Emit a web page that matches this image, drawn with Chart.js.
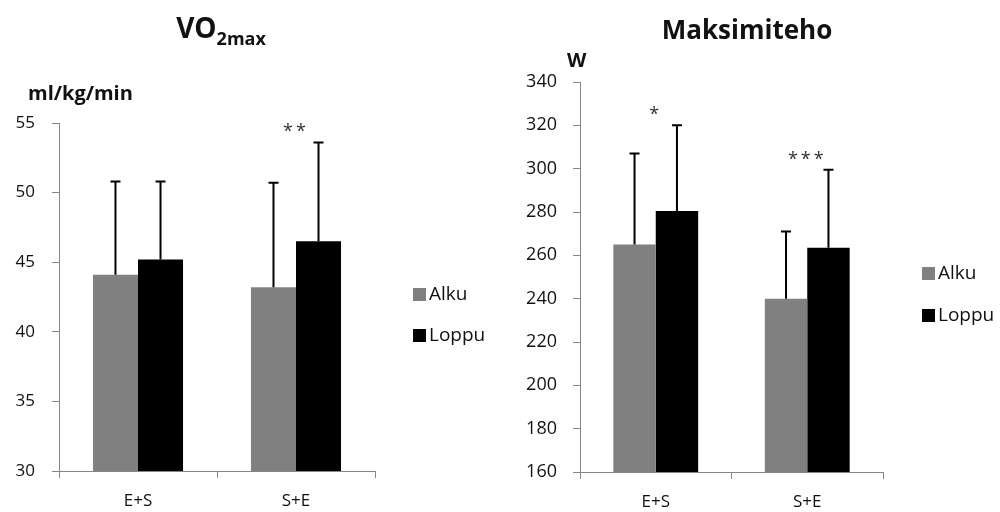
<!DOCTYPE html>
<html>
<head>
<meta charset="utf-8">
<script src="https://cdn.jsdelivr.net/npm/chart.js@4/dist/chart.umd.min.js"></script>
<style>
  html, body { margin: 0; padding: 0; background: #fff; }
  #wrap { position: relative; width: 1000px; height: 512px; overflow: hidden; }
  canvas { position: absolute; top: 0; }
  #c1 { left: 0; }
  #c2 { left: 500px; }
</style>
</head>
<body>
<div id="wrap">
  <canvas id="c1" width="500" height="512"></canvas>
  <canvas id="c2" width="500" height="512"></canvas>
</div>
<script>
// ---- data ----
const categories = ['E+S', 'S+E'];
const seriesNames = ['Alku', 'Loppu'];

// VO2max (ml/kg/min)
const vo2Alku = [44.1, 43.2];
const vo2Loppu = [45.2, 46.5];
const vo2AlkuSD = [6.7, 7.5];
const vo2LoppuSD = [5.6, 7.1];
const vo2Sig = ['', '**'];
const vo2Ticks = { min: 30, max: 55, step: 5 };

// Maksimiteho (W)
const powAlku = [265, 240];
const powLoppu = [280.5, 263.5];
const powAlkuSD = [42, 31];
const powLoppuSD = [39.5, 36];
const powSig = ['*', '***'];
const powTicks = { min: 160, max: 340, step: 20 };

const FONT = "'Open Sans', 'DejaVu Sans', sans-serif";
const GRAY = '#808080';
const AXIS = '#868686';
const TXT = '#111';

// error bars + significance stars
const errorBarPlugin = {
  id: 'errorBars',
  afterDatasetsDraw(chart, args, opts) {
    const ctx = chart.ctx;
    const y = chart.scales.y;
    let tops = [];
    ctx.save();
    ctx.strokeStyle = '#000';
    ctx.lineWidth = 2;
    chart.data.datasets.forEach((ds, i) => {
      const meta = chart.getDatasetMeta(i);
      meta.data.forEach((bar, j) => {
        const v = ds.data[j], e = ds.sd[j];
        const yb = y.getPixelForValue(v);
        const yt = y.getPixelForValue(v + e);
        ctx.beginPath();
        ctx.moveTo(bar.x, yb);
        ctx.lineTo(bar.x, yt);
        ctx.moveTo(bar.x - 5, yt);
        ctx.lineTo(bar.x + 5, yt);
        ctx.stroke();
        tops[j] = tops[j] === undefined ? yt : Math.min(tops[j], yt);
      });
    });
    // stars
    const x = chart.scales.x;
    ctx.fillStyle = '#333';
    ctx.font = `18px ${FONT}`;
    ctx.textAlign = 'center';
    ctx.textBaseline = 'alphabetic';
    ctx.letterSpacing = '3px';
    opts.sig.forEach((s, j) => {
      if (!s) return;
      const cx = x.getPixelForValue(j);
      ctx.fillText(s, cx, tops[j] - 5);
    });
    ctx.restore();
  }
};

// titles, unit labels, legend
const decorPlugin = {
  id: 'decor',
  afterDraw(chart, args, o) {
    const ctx = chart.ctx;
    ctx.save();
    ctx.fillStyle = '#111';
    ctx.textBaseline = 'alphabetic';
    // title
    if (o.titleSub) {
      ctx.font = `bold ${o.titleSize}px ${FONT}`;
      const w1 = ctx.measureText(o.title).width;
      ctx.font = `bold ${o.subSize}px ${FONT}`;
      const w2 = ctx.measureText(o.titleSub).width;
      const x0 = o.titleX - (w1 + w2) / 2;
      ctx.font = `bold ${o.titleSize}px ${FONT}`;
      ctx.textAlign = 'left';
      ctx.fillText(o.title, x0, o.titleY);
      ctx.font = `bold ${o.subSize}px ${FONT}`;
      ctx.fillText(o.titleSub, x0 + w1, o.titleY + 7);
    } else {
      ctx.font = `bold ${o.titleSize}px ${FONT}`;
      ctx.textAlign = 'center';
      ctx.fillText(o.title, o.titleX, o.titleY);
    }
    // unit
    ctx.font = `bold ${o.unitSize}px ${FONT}`;
    ctx.textAlign = 'left';
    ctx.fillText(o.unit, o.unitX, o.unitY);
    // legend
    ctx.font = `19px ${FONT}`;
    ctx.textBaseline = 'middle';
    chart.data.datasets.forEach((ds, i) => {
      const cy = o.legY + i * o.legGap;
      ctx.fillStyle = ds.backgroundColor;
      ctx.fillRect(o.legX, cy - 6, 13, 13);
      ctx.fillStyle = TXT;
      ctx.fillText(ds.label, o.legX + 16, cy + 1);
    });
    ctx.restore();
  }
};

function makeChart(id, a, b, aSD, bSD, sig, t, geo, decor) {
  return new Chart(document.getElementById(id), {
    type: 'bar',
    data: {
      labels: categories,
      datasets: [
        { label: seriesNames[0], data: a, sd: aSD, backgroundColor: GRAY },
        { label: seriesNames[1], data: b, sd: bSD, backgroundColor: '#000' }
      ]
    },
    options: {
      responsive: false,
      animation: false,
      devicePixelRatio: 1,
      layout: { padding: { top: geo.top, right: geo.right, bottom: 0, left: 0 } },
      datasets: { bar: { barPercentage: 1, categoryPercentage: geo.cat } },
      plugins: {
        legend: { display: false },
        title: { display: false },
        tooltip: { enabled: false },
        errorBars: { sig: sig },
        decor: decor
      },
      scales: {
        x: {
          grid: { offset: true, drawOnChartArea: false, drawTicks: true, tickLength: 7, color: AXIS },
          border: { color: AXIS, width: 1 },
          ticks: { color: TXT, font: { family: FONT, size: 17 }, padding: 13 },
          afterFit: s => { s.height = geo.xh; }
        },
        y: {
          min: t.min, max: t.max,
          grid: { drawOnChartArea: false, drawTicks: true, tickLength: 7, color: AXIS },
          border: { color: AXIS, width: 1 },
          ticks: { stepSize: t.step, color: TXT, font: { family: FONT, size: geo.tickSize }, padding: geo.tpad },
          afterFit: s => { s.width = geo.yw; }
        }
      }
    },
    plugins: [errorBarPlugin, decorPlugin]
  });
}

makeChart('c1', vo2Alku, vo2Loppu, vo2AlkuSD, vo2LoppuSD, vo2Sig, vo2Ticks,
  { top: 123, right: 125, xh: 41, yw: 59, cat: 0.57, tickSize: 17, tpad: 17 },
  { title: 'VO', titleSub: '2max', titleSize: 28, subSize: 18, titleX: 221, titleY: 38,
    unit: 'ml/kg/min', unitSize: 20, unitX: 28, unitY: 100,
    legX: 413, legY: 294, legGap: 41 });

makeChart('c2', powAlku, powLoppu, powAlkuSD, powLoppuSD, powSig, powTicks,
  { top: 82, right: 117, xh: 40, yw: 80, cat: 0.56, tickSize: 18, tpad: 16 },
  { title: 'Maksimiteho', titleSub: '', titleSize: 26, subSize: 18, titleX: 247, titleY: 39,
    unit: 'W', unitSize: 20, unitX: 67, unitY: 67,
    legX: 422, legY: 273, legGap: 42 });
</script>
</body>
</html>
